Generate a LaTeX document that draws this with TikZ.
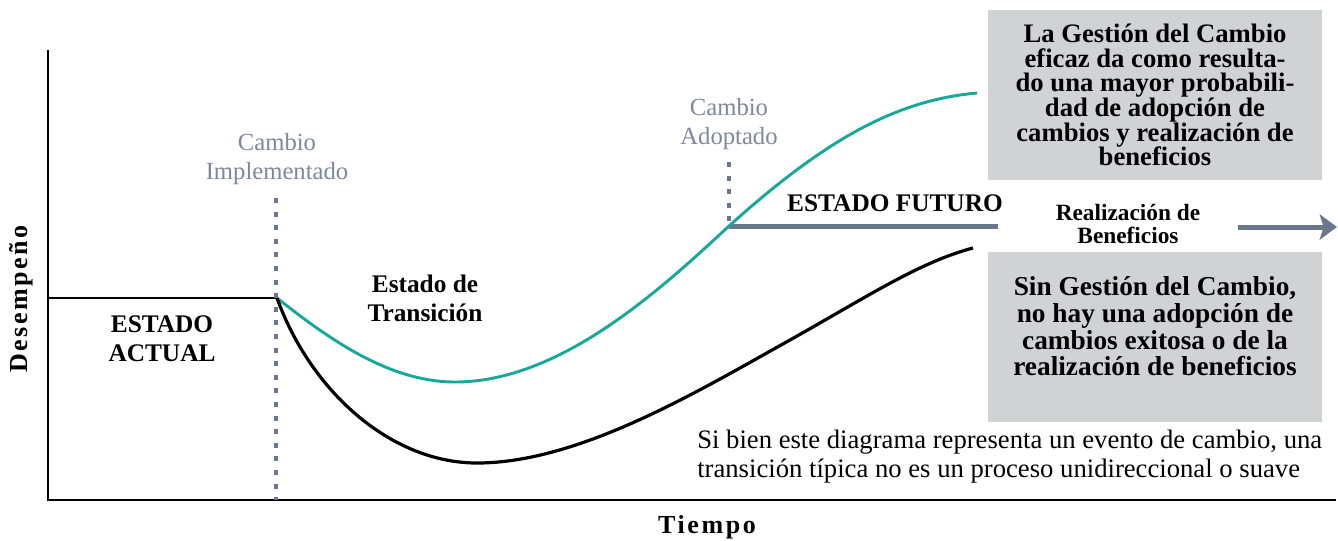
\documentclass[tikz,border=0pt]{standalone}
\usepackage{fontspec}
\setmainfont{Liberation Serif}
\usetikzlibrary{arrows.meta}
\definecolor{slate}{HTML}{6B778C}
\definecolor{lightslate}{HTML}{7D889A}
\definecolor{curveteal}{HTML}{17A899}
\definecolor{boxgray}{HTML}{D1D2D4}

\begin{document}
\begin{tikzpicture}[x=0.75pt, y=-0.75pt,
    every node/.style={inner sep=0pt, align=center},
    lbl/.style={text=lightslate, font=\fontsize{18.5}{21.75}\selectfont},
    statelbl/.style={font=\bfseries\fontsize{19}{21.5}\selectfont},
    infobox/.style={fill=boxgray, minimum width=250.5pt, minimum height=127.5pt},
    marker/.style={draw=slate, line width=3.4pt, dash pattern=on 3.8pt off 6.4pt},
    axislbl/.style={font=\bfseries\fontsize{19.5}{22}\selectfont\addfontfeature{LetterSpace=10}}]
    \useasboundingbox (0,0) rectangle (1338,540);

    \coordinate (origin) at (48,500);
    \coordinate (ytop) at (48,50);
    \coordinate (xend) at (1336,500);
    \coordinate (start) at (48,298);
    \coordinate (impl) at (277,298);
    \coordinate (impltop) at (276,198);
    \coordinate (implbot) at (276,500);
    \coordinate (adop) at (729,226);
    \coordinate (adoptop) at (729,162);
    \coordinate (futend) at (998,226);
    \coordinate (arrstart) at (1238,227);
    \coordinate (arrend) at (1337,227);

    \node[infobox, font=\bfseries\fontsize{20}{18.5}\selectfont] (gcbox) at (1155,95) {La Gestión del Cambio\\eficaz da como resulta-\\do una mayor probabili-\\dad de adopción de\\cambios y realización de\\beneficios};
    \node[infobox, font=\bfseries\fontsize{20.5}{20}\selectfont] (sinbox) at (1155,337) {Sin Gestión del Cambio,\\no hay una adopción de\\cambios exitosa o de la\\realización de beneficios\\[-4pt]};

    \draw[line width=1.7pt] (ytop) -- (origin) -- (xend);
    \draw[line width=1.6pt] (start) -- (impl);
    \draw[marker] (impltop) -- (implbot);
    \draw[marker] (adoptop) -- (adop);
    \draw[slate, line width=3.75pt] (adop) -- (futend);
    \draw[slate, line width=3.75pt, -{Stealth[length=13pt, width=19pt, inset=3pt]}] (arrstart) -- (arrend);

    \draw[curveteal, line width=2.2pt] (impl) .. controls (330,340) and (390,382) .. (455,382)
        .. controls (560,382) and (660,290) .. (adop)
        .. controls (830,135) and (900,100) .. (977,93);
    \draw[line width=2.4pt] (impl) .. controls (310,390) and (390,463) .. (477,463)
        .. controls (580,463) and (700,390) .. (790,340)
        .. controls (870,295) and (920,262) .. (973,248);

    \node[lbl] (implbl) at (277,159) {Cambio\\Implementado};
    \node[lbl] (adoplbl) at (729,124) {Cambio\\Adoptado};
    \node[statelbl] (actual) at (162,339) {ESTADO\\ACTUAL};
    \node[statelbl] (trans) at (425,298) {Estado de\\Transición};
    \node[statelbl] (futuro) at (895,203) {ESTADO FUTURO};
    \node[font=\bfseries\fontsize{17.5}{17.5}\selectfont] (benef) at (1128,224) {Realización de\\Beneficios};
    \node[anchor=west, align=left, font=\fontsize{20}{21.75}\selectfont] (nota) at (697,457) {Si bien este diagrama representa un evento de cambio, una\\transición típica no es un proceso unidireccional o suave};
    \node[axislbl, rotate=90] (ylbl) at (21,299) {Desempeño};
    \node[axislbl] (xlbl) at (707,527) {Tiempo};
\end{tikzpicture}
\end{document}
